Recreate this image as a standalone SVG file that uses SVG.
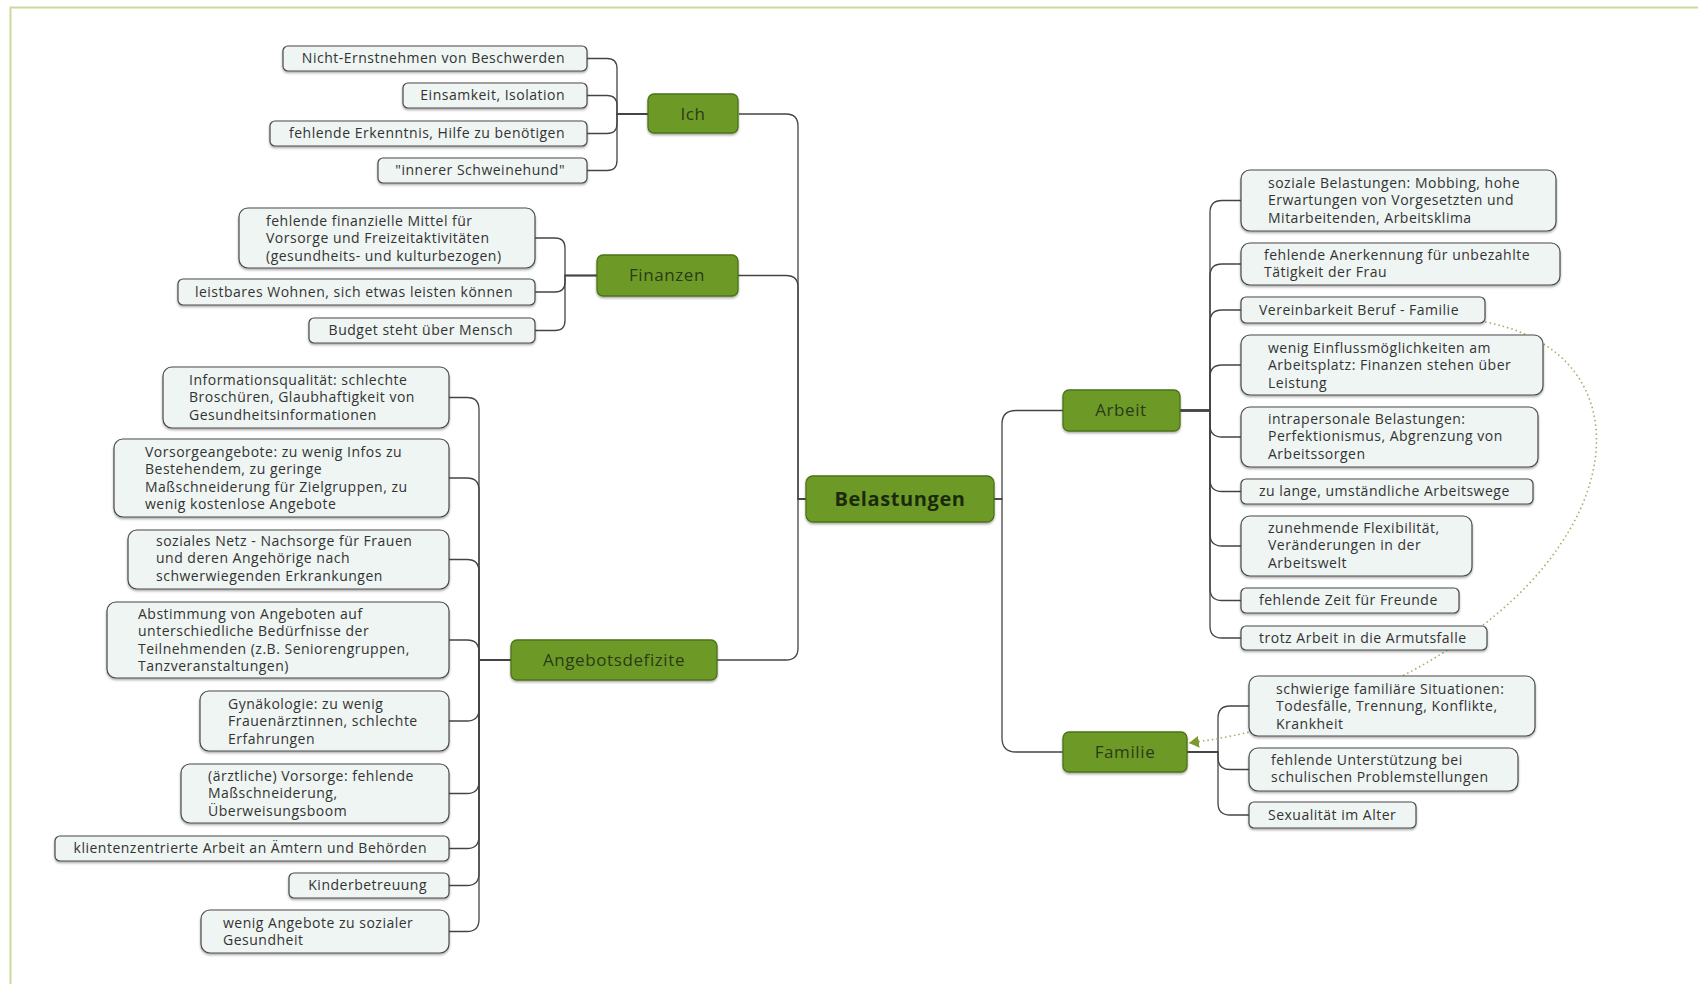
<svg xmlns="http://www.w3.org/2000/svg" width="1698" height="984" viewBox="0 0 1698 984">
<defs>
<style>
.leaf rect{fill:#eef5f2;stroke:#4a4a4a;stroke-width:1.2;filter:url(#sh)}
.leaf text{font-family:"Open Sans","DejaVu Sans",sans-serif;font-size:14px;letter-spacing:0.5px;fill:#333}
.main rect{fill:#6d9a28;stroke:#4d7218;stroke-width:1.3;filter:url(#sh)}
.main text{font-family:"Open Sans","DejaVu Sans",sans-serif;font-size:17px;letter-spacing:0.6px;fill:#2b3a18;text-anchor:middle}
.e{text-anchor:end}
.m{text-anchor:middle}
#connectors path{fill:none;stroke:#444;stroke-width:1.3}
#connectors path.rel{stroke:#a8ad62;stroke-width:1.6;stroke-dasharray:1.5 3;marker-end:url(#ah)}
</style>
<filter id="sh" x="-5%" y="-20%" width="110%" height="150%">
<feDropShadow dx="0" dy="1.5" stdDeviation="0.8" flood-color="#000" flood-opacity="0.35"/>
</filter>
<marker id="ah" markerWidth="12" markerHeight="12" refX="10" refY="6" orient="auto" markerUnits="userSpaceOnUse">
<path d="M0,0 L10,6 L0,12 Z" fill="#7c9a2c"/>
</marker>
</defs>
<rect x="0" y="0" width="1698" height="984" fill="#ffffff"/>
<path d="M10.5,984 V7.5 H1698" fill="none" stroke="#c8dc9e" stroke-width="2"/>

<g id="connectors">
<path d="M806,499 H798 V126 Q798,114 786,114 H739"/>
<path d="M806,499 H798 V287 Q798,275.5 786,275.5 H738"/>
<path d="M806,499 H798 V648 Q798,660 786,660 H717"/>
<path d="M994,499 H1002 V424 Q1002,410.5 1016,410.5 H1063"/>
<path d="M994,499 H1002 V738 Q1002,752 1016,752 H1063"/>

<path d="M648,114 H617 V68.5 Q617,58.5 607,58.5 H587"/>
<path d="M648,114 H617 V105.5 Q617,95.5 607,95.5 H587"/>
<path d="M648,114 H617 V123.5 Q617,133.5 607,133.5 H587"/>
<path d="M648,114 H617 V160.5 Q617,170.5 607,170.5 H587"/>

<path d="M597,275.5 H565 V248 Q565,238 555,238 H535"/>
<path d="M597,275.5 H565 V282 Q565,292 555,292 H535"/>
<path d="M597,275.5 H565 V320.5 Q565,330.5 555,330.5 H535"/>

<path d="M511,660 H479 V409.5 Q479,397.5 467,397.5 H449"/>
<path d="M511,660 H479 V490 Q479,478 467,478 H449"/>
<path d="M511,660 H479 V571.5 Q479,559.5 467,559.5 H449"/>
<path d="M511,660 H479 V652 Q479,640 467,640 H449"/>
<path d="M511,660 H479 V709 Q479,721 467,721 H449"/>
<path d="M511,660 H479 V781.5 Q479,793.5 467,793.5 H449"/>
<path d="M511,660 H479 V836.5 Q479,848.5 467,848.5 H449"/>
<path d="M511,660 H479 V873.5 Q479,885.5 467,885.5 H449"/>
<path d="M511,660 H479 V919.5 Q479,931.5 467,931.5 H449"/>

<path d="M1180,410.5 H1210 V212.5 Q1210,200.5 1222,200.5 H1241"/>
<path d="M1180,410.5 H1210 V276 Q1210,264 1222,264 H1241"/>
<path d="M1180,410.5 H1210 V322 Q1210,310 1222,310 H1241"/>
<path d="M1180,410.5 H1210 V377 Q1210,365 1222,365 H1241"/>
<path d="M1180,410.5 H1210 V425 Q1210,437 1222,437 H1241"/>
<path d="M1180,410.5 H1210 V479.5 Q1210,491.5 1222,491.5 H1241"/>
<path d="M1180,410.5 H1210 V534 Q1210,546 1222,546 H1241"/>
<path d="M1180,410.5 H1210 V588.5 Q1210,600.5 1222,600.5 H1241"/>
<path d="M1180,410.5 H1210 V626 Q1210,638 1222,638 H1241"/>

<path d="M1187,752 H1218 V718 Q1218,706 1230,706 H1249"/>
<path d="M1187,752 H1218 V757.5 Q1218,769.5 1230,769.5 H1249"/>
<path d="M1187,752 H1218 V803 Q1218,815 1230,815 H1249"/>

<path class="rel" d="M1485,322 C1605,345 1625,450 1560,545 C1490,650 1330,725 1189,743"/>
</g>

<g id="n-belastungen" class="main"><rect x="806" y="476" width="188" height="46" rx="7"/><text x="900" y="506" style="font-size:20px;font-weight:bold;fill:#1b2a0c;letter-spacing:0.6px">Belastungen</text></g>
<g id="n-ich" class="main"><rect x="648" y="94" width="90" height="39" rx="6"/><text x="693" y="120">Ich</text></g>
<g id="n-finanzen" class="main"><rect x="597" y="255" width="141" height="41" rx="6"/><text x="667" y="281">Finanzen</text></g>
<g id="n-angebotsdefizite" class="main"><rect x="511" y="640" width="206" height="40" rx="6"/><text x="614" y="666">Angebotsdefizite</text></g>
<g id="n-arbeit" class="main"><rect x="1063" y="390" width="117" height="41" rx="6"/><text x="1121" y="416">Arbeit</text></g>
<g id="n-familie" class="main"><rect x="1063" y="732" width="124" height="40" rx="6"/><text x="1125" y="758">Familie</text></g>

<g id="n-i1" class="leaf"><rect x="283" y="46" width="304" height="25" rx="5"/><text class="e" x="565" y="63">Nicht-Ernstnehmen von Beschwerden</text></g>
<g id="n-i2" class="leaf"><rect x="403" y="83" width="184" height="25" rx="5"/><text class="e" x="565" y="100">Einsamkeit, Isolation</text></g>
<g id="n-i3" class="leaf"><rect x="270" y="121" width="317" height="25" rx="5"/><text class="e" x="565" y="138">fehlende Erkenntnis, Hilfe zu benötigen</text></g>
<g id="n-i4" class="leaf"><rect x="378" y="158" width="209" height="25" rx="5"/><text class="e" x="565" y="175">"innerer Schweinehund"</text></g>

<g id="n-f1" class="leaf"><rect x="239" y="208" width="296" height="60" rx="9"/><text x="266" y="226">fehlende finanzielle Mittel für<tspan x="266" dy="17.4">Vorsorge und Freizeitaktivitäten</tspan><tspan x="266" dy="17.4">(gesundheits- und kulturbezogen)</tspan></text></g>
<g id="n-f2" class="leaf"><rect x="178" y="279" width="357" height="26" rx="5"/><text class="e" x="513" y="296.5">leistbares Wohnen, sich etwas leisten können</text></g>
<g id="n-f3" class="leaf"><rect x="309" y="318" width="226" height="25" rx="5"/><text class="e" x="513" y="335">Budget steht über Mensch</text></g>

<g id="n-a1" class="leaf"><rect x="163" y="367" width="286" height="61" rx="9"/><text x="189" y="385">Informationsqualität: schlechte<tspan x="189" dy="17.4">Broschüren, Glaubhaftigkeit von</tspan><tspan x="189" dy="17.4">Gesundheitsinformationen</tspan></text></g>
<g id="n-a2" class="leaf"><rect x="114" y="439" width="335" height="78" rx="9"/><text x="145" y="457">Vorsorgeangebote: zu wenig Infos zu<tspan x="145" dy="17.4">Bestehendem, zu geringe</tspan><tspan x="145" dy="17.4">Maßschneiderung für Zielgruppen, zu</tspan><tspan x="145" dy="17.4">wenig kostenlose Angebote</tspan></text></g>
<g id="n-a3" class="leaf"><rect x="128" y="530" width="321" height="59" rx="9"/><text x="156" y="546">soziales Netz - Nachsorge für Frauen<tspan x="156" dy="17.4">und deren Angehörige nach</tspan><tspan x="156" dy="17.4">schwerwiegenden Erkrankungen</tspan></text></g>
<g id="n-a4" class="leaf"><rect x="107" y="602" width="342" height="76" rx="9"/><text x="138" y="619">Abstimmung von Angeboten auf<tspan x="138" dy="17.4">unterschiedliche Bedürfnisse der</tspan><tspan x="138" dy="17.4">Teilnehmenden (z.B. Seniorengruppen,</tspan><tspan x="138" dy="17.4">Tanzveranstaltungen)</tspan></text></g>
<g id="n-a5" class="leaf"><rect x="200" y="691" width="249" height="60" rx="9"/><text x="228" y="709">Gynäkologie: zu wenig<tspan x="228" dy="17.4">Frauenärztinnen, schlechte</tspan><tspan x="228" dy="17.4">Erfahrungen</tspan></text></g>
<g id="n-a6" class="leaf"><rect x="181" y="764" width="268" height="59" rx="9"/><text x="208" y="781">(ärztliche) Vorsorge: fehlende<tspan x="208" dy="17.4">Maßschneiderung,</tspan><tspan x="208" dy="17.4">Überweisungsboom</tspan></text></g>
<g id="n-a7" class="leaf"><rect x="55" y="836" width="394" height="25" rx="5"/><text class="e" x="427" y="853">klientenzentrierte Arbeit an Ämtern und Behörden</text></g>
<g id="n-a8" class="leaf"><rect x="289" y="873" width="160" height="25" rx="5"/><text class="e" x="427" y="890">Kinderbetreuung</text></g>
<g id="n-a9" class="leaf"><rect x="201" y="910" width="248" height="43" rx="9"/><text x="223" y="928">wenig Angebote zu sozialer<tspan x="223" dy="17.4">Gesundheit</tspan></text></g>

<g id="n-r1" class="leaf"><rect x="1241" y="170" width="315" height="61" rx="9"/><text x="1268" y="188">soziale Belastungen: Mobbing, hohe<tspan x="1268" dy="17.4">Erwartungen von Vorgesetzten und</tspan><tspan x="1268" dy="17.4">Mitarbeitenden, Arbeitsklima</tspan></text></g>
<g id="n-r2" class="leaf"><rect x="1241" y="243" width="319" height="42" rx="9"/><text x="1264" y="260">fehlende Anerkennung für unbezahlte<tspan x="1264" dy="17.4">Tätigkeit der Frau</tspan></text></g>
<g id="n-r3" class="leaf"><rect x="1241" y="297" width="244" height="26" rx="5"/><text x="1259" y="314.5">Vereinbarkeit Beruf - Familie</text></g>
<g id="n-r4" class="leaf"><rect x="1241" y="335" width="302" height="60" rx="9"/><text x="1268" y="353">wenig Einflussmöglichkeiten am<tspan x="1268" dy="17.4">Arbeitsplatz: Finanzen stehen über</tspan><tspan x="1268" dy="17.4">Leistung</tspan></text></g>
<g id="n-r5" class="leaf"><rect x="1241" y="407" width="297" height="60" rx="9"/><text x="1268" y="424">intrapersonale Belastungen:<tspan x="1268" dy="17.4">Perfektionismus, Abgrenzung von</tspan><tspan x="1268" dy="17.4">Arbeitssorgen</tspan></text></g>
<g id="n-r6" class="leaf"><rect x="1241" y="479" width="292" height="25" rx="5"/><text x="1259" y="496">zu lange, umständliche Arbeitswege</text></g>
<g id="n-r7" class="leaf"><rect x="1241" y="516" width="231" height="60" rx="9"/><text x="1268" y="533">zunehmende Flexibilität,<tspan x="1268" dy="17.4">Veränderungen in der</tspan><tspan x="1268" dy="17.4">Arbeitswelt</tspan></text></g>
<g id="n-r8" class="leaf"><rect x="1241" y="588" width="218" height="25" rx="5"/><text x="1259" y="605">fehlende Zeit für Freunde</text></g>
<g id="n-r9" class="leaf"><rect x="1241" y="626" width="246" height="24" rx="5"/><text x="1259" y="642.5">trotz Arbeit in die Armutsfalle</text></g>

<g id="n-fa1" class="leaf"><rect x="1249" y="676" width="286" height="60" rx="9"/><text x="1276" y="694">schwierige familiäre Situationen:<tspan x="1276" dy="17.4">Todesfälle, Trennung, Konflikte,</tspan><tspan x="1276" dy="17.4">Krankheit</tspan></text></g>
<g id="n-fa2" class="leaf"><rect x="1249" y="748" width="269" height="43" rx="9"/><text x="1271" y="765">fehlende Unterstützung bei<tspan x="1271" dy="17.4">schulischen Problemstellungen</tspan></text></g>
<g id="n-fa3" class="leaf"><rect x="1249" y="802" width="167" height="26" rx="5"/><text x="1268" y="819.5">Sexualität im Alter</text></g>
</svg>
